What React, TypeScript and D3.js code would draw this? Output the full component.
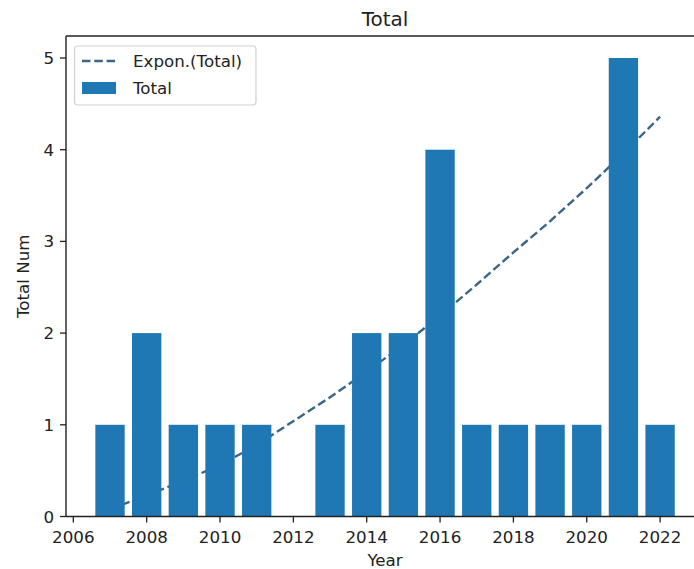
import React from "react";
import * as d3 from "d3";

const years = [2007, 2008, 2009, 2010, 2011, 2013, 2014, 2015, 2016, 2017, 2018, 2019, 2020, 2021, 2022];
const totals = [1, 2, 1, 1, 1, 1, 2, 2, 4, 1, 1, 1, 1, 5, 1];
const trendYears = [2007, 2008, 2009, 2010, 2011, 2013, 2014, 2015, 2016, 2017, 2018, 2019, 2020, 2021, 2022];
const trendValues = [0.08, 0.23, 0.39, 0.56, 0.78, 1.3, 1.58, 1.87, 2.19, 2.53, 2.88, 3.22, 3.58, 3.96, 4.36];
const xTicks = [2006, 2008, 2010, 2012, 2014, 2016, 2018, 2020, 2022];
const yTicks = [0, 1, 2, 3, 4, 5];

const W = 694;
const H = 569;
const L = 66, T = 36, B = 516.5, R = 704.1;
const FONT = "DejaVu Sans, sans-serif";
const FS = 16.7;

export default function App() {
  const x = d3.scaleLinear().domain([2005.8, 2023.2]).range([L, R]);
  const y = d3.scaleLinear().domain([0, 5.25]).range([B, B - 5.25 * 91.7]);
  const bw = x(2007.4) - x(2006.6);
  const line = d3
    .line<number>()
    .x((_, i) => x(trendYears[i]))
    .y((d) => y(d));
  const lineColor = "#3a6687";
  const barColor = "#1f77b4";
  return (
    <svg
      width={W}
      height={H}
      style={{ position: "absolute", left: 0, top: 0, background: "#fff" }}
      fontFamily={FONT}
    >
      <rect x={0} y={0} width={W} height={H} fill="#fff" />
      <path
        d={line(trendValues) || ""}
        fill="none"
        stroke={lineColor}
        strokeWidth={2.4}
        strokeDasharray="8.5,3.8"
      />
      {years.map((yr, i) => (
        <rect
          key={yr}
          x={x(yr) - bw / 2}
          y={y(totals[i])}
          width={bw}
          height={y(0) - y(totals[i])}
          fill={barColor}
        />
      ))}
      {/* spines */}
      <line x1={L} x2={L} y1={T} y2={B} stroke="#222" strokeWidth={1.4} />
      <line x1={L} x2={R} y1={B} y2={B} stroke="#222" strokeWidth={1.4} />
      <line x1={L} x2={R} y1={T} y2={T} stroke="#222" strokeWidth={1.4} />
      <line x1={R} x2={R} y1={T} y2={B} stroke="#222" strokeWidth={1.4} />
      {/* x ticks */}
      {xTicks.map((t) => (
        <g key={t}>
          <line x1={x(t)} x2={x(t)} y1={B} y2={B + 6} stroke="#222" strokeWidth={1.3} />
          <text x={x(t)} y={B + 26.5} textAnchor="middle" fontSize={FS} fill="#222">
            {t}
          </text>
        </g>
      ))}
      {/* y ticks */}
      {yTicks.map((t) => (
        <g key={t}>
          <line x1={L - 6} x2={L} y1={y(t)} y2={y(t)} stroke="#222" strokeWidth={1.3} />
          <text x={L - 12} y={y(t)} dy="0.36em" textAnchor="end" fontSize={FS} fill="#222">
            {t}
          </text>
        </g>
      ))}
      {/* labels */}
      <text x={(L + R) / 2} y={566} textAnchor="middle" fontSize={FS} fill="#222">
        Year
      </text>
      <text
        transform={`translate(29,${(T + B) / 2}) rotate(-90)`}
        textAnchor="middle"
        fontSize={FS}
        fill="#222"
      >
        Total Num
      </text>
      <text x={(L + R) / 2} y={26} textAnchor="middle" fontSize={20} fill="#222">
        Total
      </text>
      {/* legend */}
      <rect x={74.5} y={46} width={181.5} height={59} rx={3.5} fill="#fff" fillOpacity={0.8} stroke="#d0d0d0" strokeWidth={1.2} />
      <line x1={82} x2={116} y1={61} y2={61} stroke={lineColor} strokeWidth={2.4} strokeDasharray="8.5,3.8" />
      <text x={133} y={67} fontSize={FS} fill="#222">
        Expon.(Total)
      </text>
      <rect x={82} y={82} width={34} height={12} fill={barColor} />
      <text x={133} y={93.5} fontSize={FS} fill="#222">
        Total
      </text>
    </svg>
  );
}
